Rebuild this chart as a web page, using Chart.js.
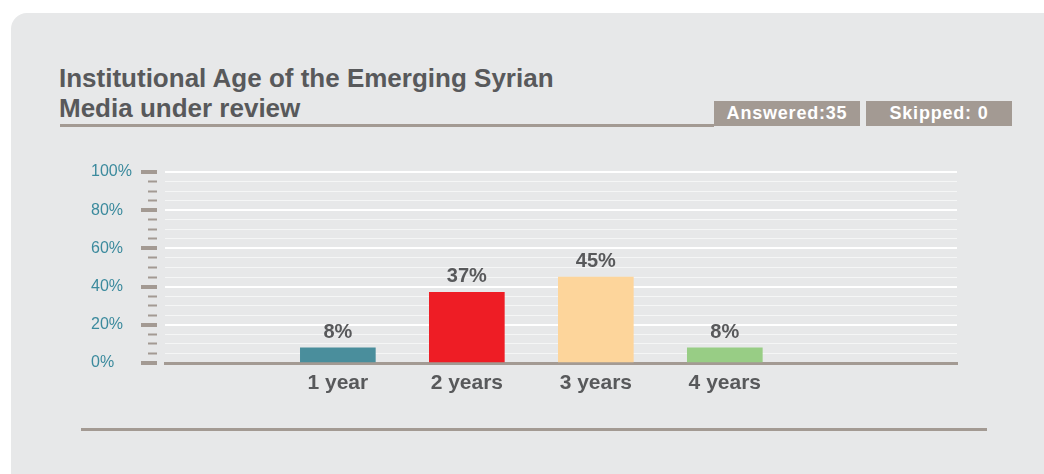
<!DOCTYPE html>
<html>
<head>
<meta charset="utf-8">
<script src="https://cdn.jsdelivr.net/npm/chart.js@4"></script>
<style>
  body { margin: 0; width: 1044px; height: 474px; overflow: hidden; background: #fff; position: relative;
         font-family: "Liberation Sans", Arial, sans-serif; }
  .card { position: absolute; left: 11px; top: 13px; right: -20px; bottom: -20px;
          background: #e7e8e9; border-radius: 16px; }
  .title { position: absolute; left: 59px; top: 63px; font-size: 26px; font-weight: bold;
           line-height: 30px; color: #58595b; white-space: nowrap; }
  .rule { position: absolute; background: #a39a93; height: 3px; }
  .badge { position: absolute; top: 101px; width: 146px; height: 25px; background: #a39a93;
           color: #fff; font-size: 18px; font-weight: bold; line-height: 25px; text-align: center;
           letter-spacing: 0.8px; }
  #chart { position: absolute; left: 0; top: 0; }
</style>
</head>
<body>
<div class="card"></div>
<div class="title">Institutional Age of the Emerging Syrian<br>Media under review</div>
<div class="rule" style="left:60px; top:124px; width:654px;"></div>
<div class="badge" id="answered" style="left:714px;"></div>
<div class="badge" id="skipped" style="left:866px;"></div>
<div class="rule" style="left:81px; top:428px; width:906px;"></div>
<canvas id="chart" width="1044" height="474"></canvas>

<script>
const categories = ["1 year", "2 years", "3 years", "4 years"];
const percents = [8, 37, 45, 8];
const barColors = ["#4a8e9c", "#ee1d25", "#fdd59b", "#98cd85"];
const yTicks = [0, 20, 40, 60, 80, 100];
const answered = 35;
const skipped = 0;

const FONT = "'Liberation Sans', Arial, sans-serif";
const GREY = "#a39a93";

document.getElementById("answered").textContent = "Answered:" + answered;
document.getElementById("skipped").textContent = "Skipped: " + skipped;

// percentage above each bar
const valueLabels = {
  id: "valueLabels",
  afterDatasetsDraw(chart) {
    const ctx = chart.ctx;
    const meta = chart.getDatasetMeta(0);
    ctx.save();
    ctx.font = "bold 20px " + FONT;
    ctx.fillStyle = "#58595b";
    ctx.textAlign = "center";
    ctx.textBaseline = "alphabetic";
    meta.data.forEach((bar, i) => {
      ctx.fillText(percents[i] + "%", bar.x, bar.y - 10);
    });
    ctx.restore();
  },
};

const isMajor = (v) => yTicks.includes(v);

new Chart(document.getElementById("chart"), {
  type: "bar",
  data: {
    datasets: [
      {
        data: percents.map((p, i) => ({ x: i + 1, y: p })),
        backgroundColor: barColors,
        barThickness: 75,
      },
    ],
  },
  options: {
    responsive: false,
    animation: false,
    layout: { padding: { left: 91, right: 87, top: 172, bottom: 71 } },
    plugins: { legend: { display: false }, tooltip: { enabled: false } },
    scales: {
      x: {
        type: "linear",
        offset: false,
        min: -0.34,
        max: 5.8,
        afterBuildTicks: (s) => {
          s.ticks = categories.map((_, i) => ({ value: i + 1 }));
        },
        afterFit: (s) => {
          s.height = 40;
        },
        grid: { display: false, drawTicks: false },
        border: { display: true, color: GREY, width: 3 },
        ticks: {
          autoSkip: false,
          padding: 8,
          color: "#58595b",
          font: { family: FONT, size: 21, weight: "bold" },
          callback: (v) => categories[v - 1] || "",
        },
      },
      y: {
        min: 0,
        max: 100,
        afterFit: (s) => {
          s.width = 74;
        },
        border: { display: false },
        grid: {
          color: (c) => (isMajor(c.tick.value) ? "#ffffff" : "rgba(255,255,255,0.6)"),
          lineWidth: (c) => (isMajor(c.tick.value) ? 2 : 1),
          tickLength: 24,
          tickColor: GREY,
          tickWidth: (c) => (isMajor(c.tick.value) ? 4 : 2),
          tickBorderDash: (c) => (isMajor(c.tick.value) ? [16, 40] : [0, 7, 9, 40]),
        },
        ticks: {
          stepSize: 5,
          autoSkip: false,
          crossAlign: "far",
          color: "#3b8a9d",
          font: { family: FONT, size: 16 },
          callback: (v) => (isMajor(v) ? v + "%" : ""),
        },
      },
    },
  },
  plugins: [valueLabels],
});
</script>
</body>
</html>
